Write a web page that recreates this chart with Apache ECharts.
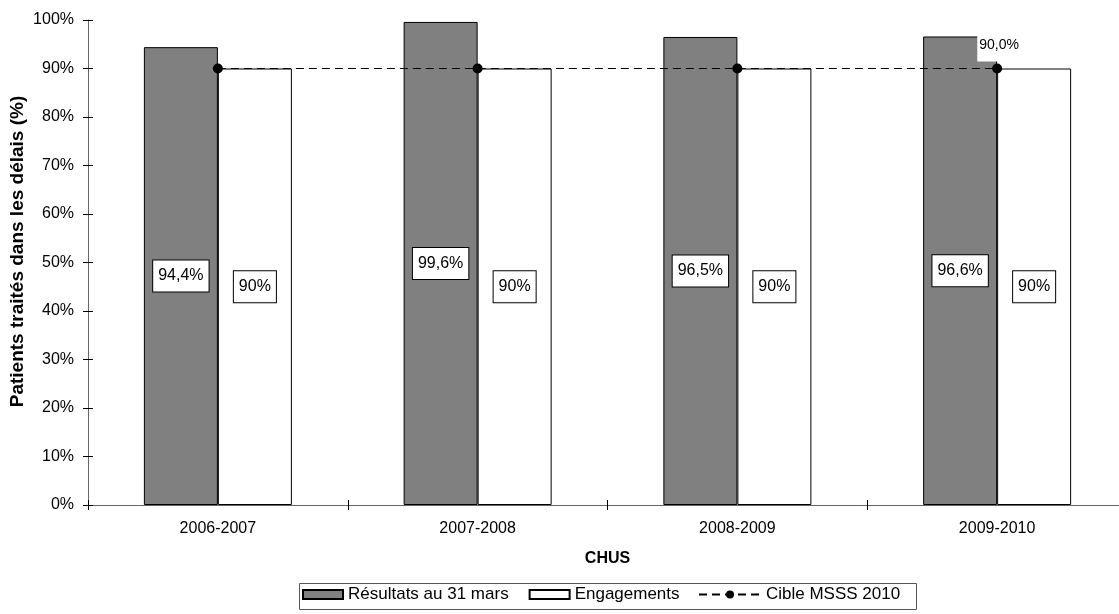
<!DOCTYPE html>
<html>
<head>
<meta charset="utf-8">
<style>
  html, body { margin: 0; padding: 0; background: #fff; }
  #chart { width: 1119px; height: 614px; }
</style>
<script src="https://cdn.jsdelivr.net/npm/echarts@6/dist/echarts.min.js"></script>
</head>
<body>
<div id="chart"></div>
<script>
// Periods on the category axis
const categories = ['2006-2007', '2007-2008', '2008-2009', '2009-2010'];
// Share of patients treated within the time limit (%)
const resultats = [94.4, 99.6, 96.5, 96.6];
const engagements = [90, 90, 90, 90];
const cible = [90, 90, 90, 90];
// Y axis ticks
const yTicks = [0, 10, 20, 30, 40, 50, 60, 70, 80, 90, 100];

const FONT = 'Liberation Sans, Arial, sans-serif';

const fmtDecimal = v => v.toFixed(1).replace('.', ',') + '%';
const fmtInt = v => Math.round(v) + '%';

const boxLabel = formatter => ({
  show: true,
  position: 'inside',
  formatter: p => formatter(p.value),
  color: '#000',
  fontFamily: FONT,
  fontSize: 16,
  backgroundColor: '#fff',
  borderColor: '#000',
  borderWidth: 1,
  padding: [8, 5, 7, 5]
});

const chart = echarts.init(document.getElementById('chart'), null, { renderer: 'canvas' });

const baseY = {
  type: 'value',
  min: yTicks[0],
  max: yTicks[yTicks.length - 1],
  interval: yTicks[1] - yTicks[0],
  splitLine: { show: false }
};

const legendText = { color: '#000', fontSize: 17, fontFamily: FONT };

chart.setOption({
  animation: false,
  textStyle: { fontFamily: FONT },
  grid: { left: 88, top: 20, width: 1039, height: 485, containLabel: false, outerBoundsMode: 'none' },
  xAxis: [{
    type: 'category',
    data: categories,
    axisLine: { lineStyle: { color: '#666', width: 1 } },
    axisTick: { show: true, inside: false, length: 5, lineStyle: { color: '#000' } },
    axisLabel: { color: '#000', fontSize: 16, fontFamily: FONT, margin: 16 },
    name: 'CHUS',
    nameLocation: 'middle',
    nameGap: 46,
    nameTextStyle: { color: '#000', fontSize: 16, fontWeight: 'bold', fontFamily: FONT }
  }, {
    type: 'category',
    data: categories,
    position: 'bottom',
    axisLine: { show: false },
    axisTick: { show: true, inside: true, length: 5, lineStyle: { color: '#000' } },
    axisLabel: { show: false }
  }],
  yAxis: [Object.assign({}, baseY, {
    axisLine: { show: true, lineStyle: { color: '#666', width: 1 } },
    axisTick: { show: true, inside: false, length: 5, lineStyle: { color: '#000' } },
    axisLabel: { color: '#000', fontSize: 16, fontFamily: FONT, margin: 14, formatter: '{value}%' },
    name: 'Patients traités dans les délais (%)',
    nameLocation: 'middle',
    nameGap: 61,
    nameMoveOverlap: false,
    nameTextStyle: { color: '#000', fontSize: 19, fontWeight: 'bold', fontFamily: FONT, padding: [0, 0, 0, 22] }
  }), Object.assign({}, baseY, {
    position: 'left',
    axisLine: { show: false },
    axisTick: { show: true, inside: true, length: 5, lineStyle: { color: '#000' } },
    axisLabel: { show: false }
  })],
  legend: [{
    top: 586,
    left: 302,
    itemWidth: 40,
    itemHeight: 9,
    itemGap: 20,
    padding: 0,
    textStyle: legendText,
    data: [
      { name: 'Résultats au 31 mars', icon: 'rect' },
      { name: 'Engagements', icon: 'rect' }
    ]
  }, {
    top: 586,
    left: 698,
    itemWidth: 62,
    itemHeight: 10,
    padding: 0,
    textStyle: legendText,
    data: [{ name: 'Cible MSSS 2010' }]
  }],
  // Frame around the legend
  graphic: [{
    type: 'rect',
    left: 297,
    top: 581,
    shape: { width: 617, height: 26 },
    style: { fill: null, stroke: '#555', lineWidth: 1 },
    silent: true
  }],
  series: [{
    name: 'Résultats au 31 mars',
    type: 'bar',
    data: resultats,
    barWidth: 74,
    barGap: '0%',
    itemStyle: { color: '#808080', borderColor: '#000', borderWidth: 1 },
    label: boxLabel(fmtDecimal)
  }, {
    name: 'Engagements',
    type: 'bar',
    data: engagements,
    barWidth: 74,
    barGap: '0%',
    itemStyle: { color: '#fff', borderColor: '#000', borderWidth: 1 },
    label: boxLabel(fmtInt)
  }, {
    name: 'Cible MSSS 2010',
    type: 'line',
    z: 5,
    data: cible.map((v, i) => i === cible.length - 1 ? {
      value: v,
      label: {
        show: true,
        position: 'top',
        distance: 2,
        offset: [2, 0],
        formatter: p => fmtDecimal(p.value),
        color: '#000',
        fontSize: 14,
        fontFamily: FONT,
        backgroundColor: '#fff',
        padding: [4, 2, 9, 2]
      }
    } : v),
    symbol: 'circle',
    symbolSize: 10,
    itemStyle: { color: '#000' },
    lineStyle: { color: '#000', width: 1, type: [8, 5] }
  }]
});
</script>
</body>
</html>
